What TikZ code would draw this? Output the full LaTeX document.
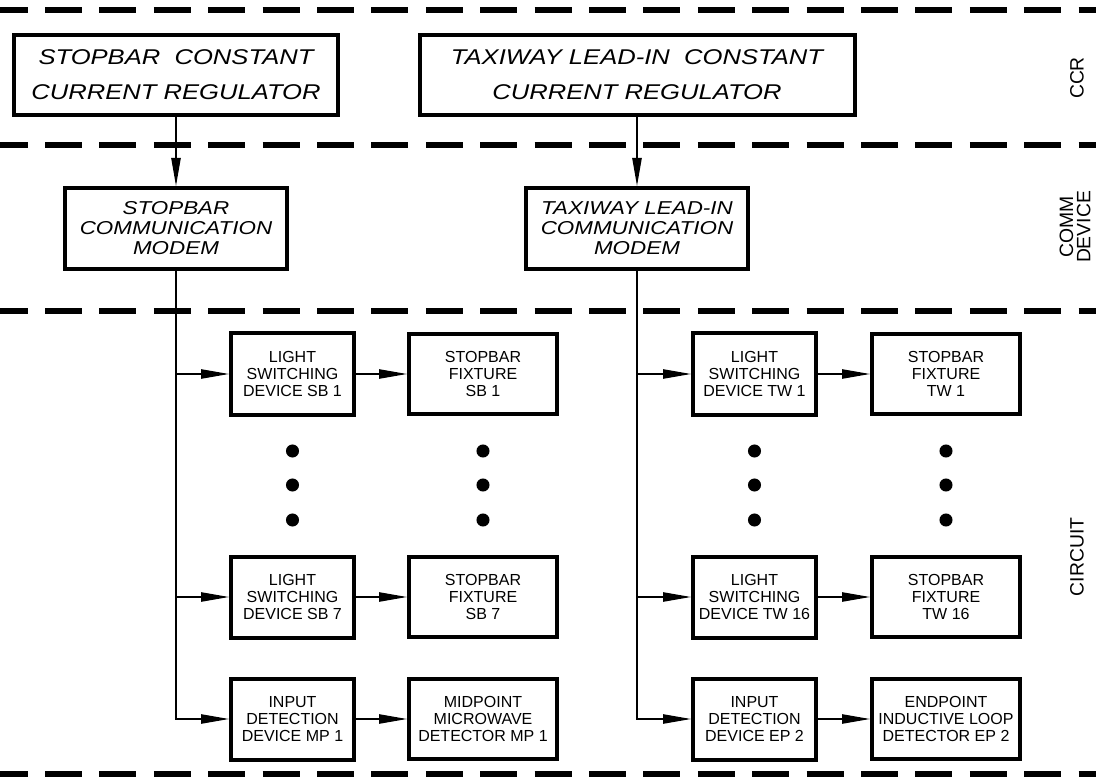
\documentclass[tikz,border=0pt]{standalone}
\usepackage{fontspec}
\setmainfont{Liberation Sans}
\newfontfamily\cadfont[FakeStretch=1.2]{Liberation Sans}
\usetikzlibrary{arrows.meta}
\tikzset{
	sepline/.style={line width=4.5pt, dash pattern=on 27.75pt off 13.05pt, dash phase=7pt},
	ccrbox/.style={draw, line width=3pt, inner sep=0pt, minimum height=60pt, align=center, font=\cadfont\itshape\fontsize{16}{26.25}\selectfont},
	modembox/.style={draw, line width=3pt, inner sep=0pt, minimum width=166.5pt, minimum height=60.75pt, align=center, font=\cadfont\itshape\fontsize{14}{15}\selectfont},
	devbox/.style={draw, line width=3pt, inner sep=0pt, minimum width=92.25pt, minimum height=60.75pt, align=center, font=\fontsize{12}{12.75}\selectfont},
	fixbox/.style={draw, line width=3pt, inner sep=0pt, minimum width=111pt, minimum height=60pt, align=center, font=\fontsize{12}{12.75}\selectfont},
	zonelabel/.style={inner sep=0pt, align=center, rotate=90, font=\fontsize{14.5}{13}\selectfont},
	signal/.style={line width=1pt, -{Triangle[length=21pt, width=7pt]}}
}

\begin{document}
\begin{tikzpicture}[x=0.75pt, y=-0.75pt]
		%%%%% START %%%%%
		\useasboundingbox (0, 0) rectangle (1096, 784);
		
		\draw[sepline] (0, 10) -- (1096, 10);
		\draw[sepline] (0, 145) -- (1096, 145);
		\draw[sepline] (0, 311) -- (1096, 311);
		\draw[sepline] (0, 774) -- (1096, 774);
		
		\node[zonelabel] (lblccr) at (1077, 78) {CCR};
		\node[zonelabel] (lblcomm) at (1075, 227) {COMM\\DEVICE};
		\node[zonelabel] (lblcircuit) at (1077, 557) {CIRCUIT};
		
		\node[ccrbox, minimum width=243pt] (ccrsb) at (176, 75) {STOPBAR\ \ CONSTANT\\CURRENT REGULATOR};
		\node[ccrbox, minimum width=326.25pt] (ccrtw) at (637, 75) {TAXIWAY LEAD-IN\ \ CONSTANT\\CURRENT REGULATOR};
		
		\node[modembox] (modsb) at (176, 228.5) {STOPBAR\\COMMUNICATION\\MODEM};
		\node[modembox] (modtw) at (637, 228.5) {TAXIWAY LEAD-IN\\COMMUNICATION\\MODEM};
		
		\draw[signal] (ccrsb) -- (modsb);
		\draw[signal] (ccrtw) -- (modtw);
		
		% stopbar circuit
		\node[devbox] (lsdsb1) at (292.5, 374) {LIGHT\\SWITCHING\\DEVICE SB 1};
		\node[fixbox] (fixsb1) at (483, 374) {STOPBAR\\FIXTURE\\SB 1};
		\node[devbox] (lsdsb7) at (292.5, 597) {LIGHT\\SWITCHING\\DEVICE SB 7};
		\node[fixbox] (fixsb7) at (483, 597) {STOPBAR\\FIXTURE\\SB 7};
		\node[devbox] (inmp) at (292.5, 719) {INPUT\\DETECTION\\DEVICE MP 1};
		\node[fixbox] (detmp) at (483, 719) {MIDPOINT\\MICROWAVE\\DETECTOR MP 1};
		
		\draw[signal] (modsb.south) |- (inmp.west);
		\draw[signal] (modsb.south |- lsdsb1.west) -- (lsdsb1.west);
		\draw[signal] (modsb.south |- lsdsb7.west) -- (lsdsb7.west);
		\draw[signal] (lsdsb1) -- (fixsb1);
		\draw[signal] (lsdsb7) -- (fixsb7);
		\draw[signal] (inmp) -- (detmp);
		
		% taxiway lead-in circuit
		\node[devbox] (lsdtw1) at (754.5, 374) {LIGHT\\SWITCHING\\DEVICE TW 1};
		\node[fixbox] (fixtw1) at (946, 374) {STOPBAR\\FIXTURE\\TW 1};
		\node[devbox] (lsdtw16) at (754.5, 597) {LIGHT\\SWITCHING\\DEVICE TW 16};
		\node[fixbox] (fixtw16) at (946, 597) {STOPBAR\\FIXTURE\\TW 16};
		\node[devbox] (inep) at (754.5, 719) {INPUT\\DETECTION\\DEVICE EP 2};
		\node[fixbox] (detep) at (946, 719) {ENDPOINT\\INDUCTIVE LOOP\\DETECTOR EP 2};
		
		\draw[signal] (modtw.south) |- (inep.west);
		\draw[signal] (modtw.south |- lsdtw1.west) -- (lsdtw1.west);
		\draw[signal] (modtw.south |- lsdtw16.west) -- (lsdtw16.west);
		\draw[signal] (lsdtw1) -- (fixtw1);
		\draw[signal] (lsdtw16) -- (fixtw16);
		\draw[signal] (inep) -- (detep);
		
		% dots
		\fill (292.5, 451) circle (4.9pt);
		\fill (292.5, 485) circle (4.9pt);
		\fill (292.5, 520) circle (4.9pt);
		\fill (483, 451) circle (4.9pt);
		\fill (483, 485) circle (4.9pt);
		\fill (483, 520) circle (4.9pt);
		\fill (754.5, 451) circle (4.9pt);
		\fill (754.5, 485) circle (4.9pt);
		\fill (754.5, 520) circle (4.9pt);
		\fill (946, 451) circle (4.9pt);
		\fill (946, 485) circle (4.9pt);
		\fill (946, 520) circle (4.9pt);
		
		%%%%% END %%%%%
	\end{tikzpicture}
\end{document}
